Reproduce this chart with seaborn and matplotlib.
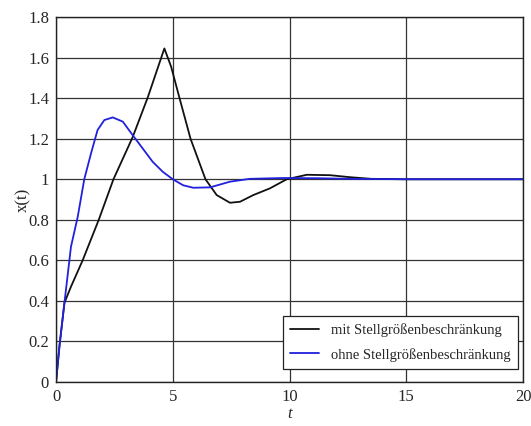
import numpy as np
import pandas as pd
import seaborn as sns
import matplotlib.pyplot as plt
from matplotlib.ticker import FuncFormatter

# Values
t_mit = [0, 0.15, 0.36, 0.64, 1.14, 1.83, 2.46, 3.28, 3.93, 4.64, 4.93, 5.28, 5.76,
         6.40, 6.88, 7.45, 7.88, 8.45, 9.16, 9.88, 10.74, 11.73, 12.6, 13.5, 15.0, 20.0]
x_mit = [0, 0.18, 0.39, 0.47, 0.60, 0.80, 1.00, 1.207, 1.404, 1.645, 1.555, 1.404, 1.20,
         1.00, 0.922, 0.884, 0.889, 0.922, 0.955, 1.0, 1.022, 1.02, 1.01, 1.002, 1.0, 1.0]

t_ohne = [0, 0.15, 0.36, 0.64, 0.93, 1.21, 1.5, 1.78, 2.07, 2.43, 2.86, 3.28, 3.71,
          4.14, 4.57, 5.0, 5.45, 5.88, 6.6, 7.45, 8.3, 9.7, 11.2, 12.6, 15.0, 20.0]
x_ohne = [0, 0.18, 0.39, 0.667, 0.815, 1.0, 1.128, 1.243, 1.292, 1.305, 1.284, 1.218, 1.152,
          1.086, 1.037, 1.0, 0.97, 0.958, 0.96, 0.988, 1.002, 1.006, 1.005, 1.002, 1.0, 1.0]

labels = ['mit Stellgrößenbeschränkung', 'ohne Stellgrößenbeschränkung']

df = pd.concat([
    pd.DataFrame({'t': t_mit, 'x': x_mit, 'Fall': labels[0]}),
    pd.DataFrame({'t': t_ohne, 'x': x_ohne, 'Fall': labels[1]}),
], ignore_index=True)

sns.set_style('white')
plt.rcParams['font.family'] = ['Liberation Serif', 'DejaVu Serif']

fig = plt.figure(figsize=(5.31, 4.26), dpi=100)
ax = fig.add_axes([0.1055, 0.1033, 0.8795, 0.8567])

sns.lineplot(data=df, x='t', y='x', hue='Fall', estimator=None, sort=False,
             palette={labels[0]: '#111111', labels[1]: '#2020dd'},
             linewidth=1.3, ax=ax)

ax.set_xlim(0, 20)
ax.set_ylim(0, 1.8)
ax.set_xticks([0, 5, 10, 15, 20])
ax.set_yticks(np.arange(0, 1.81, 0.2))
ax.yaxis.set_major_formatter(FuncFormatter(lambda v, p: f'{v:g}'))
ax.tick_params(length=0, labelsize=12, pad=5)
ax.grid(True, color='#333333', linewidth=0.9)
for s in ax.spines.values():
    s.set_color('#222222')
    s.set_linewidth(1.0)

ax.set_xlabel('t', fontsize=12, style='italic', labelpad=1)
ax.set_ylabel('x(t)', fontsize=12, labelpad=-2)

leg = ax.legend(loc='lower right', fontsize=10.5, frameon=True, fancybox=False,
                edgecolor='#222222', framealpha=1, borderaxespad=0,
                handlelength=2.0, labelspacing=0.75, borderpad=0.5,
                bbox_to_anchor=(0.989, 0.036))
leg.get_frame().set_linewidth(0.9)

fig.savefig('out.png', dpi=100)
